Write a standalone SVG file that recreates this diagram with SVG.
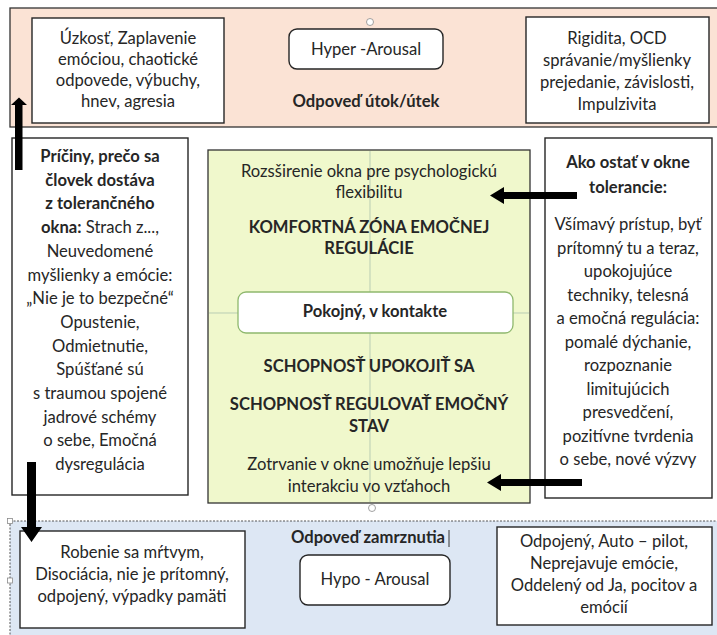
<svg xmlns="http://www.w3.org/2000/svg" width="717" height="635" viewBox="0 0 717 635">
<style>
  text { font-family: Lato, "Liberation Sans", sans-serif; font-size: 16.6px; fill: #262626; text-anchor: middle; }
  .b { font-weight: bold; }
  .box { fill: #ffffff; stroke: #262626; stroke-width: 1.4; }
  .rbox { fill: #ffffff; stroke: #262626; stroke-width: 1.4; }
  .arrow { fill: #000000; }
  .grid { stroke: #b9cdb3; stroke-width: 1; }
  .handle { fill: #ffffff; stroke: #8a8a8a; stroke-width: 0.8; }
</style>
<rect width="717" height="635" fill="#ffffff"/>

<g id="hyper-band">
  <rect x="10" y="8" width="712" height="119" fill="#fbe3d5" stroke="#333333" stroke-width="1.3"/>
  <circle cx="370" cy="22" r="3.5" class="handle"/>
  <text x="366" y="107" class="b">Odpoveď útok/útek</text>
</g>

<g id="hypo-band">
  <rect x="10" y="521" width="712" height="120" fill="#dde7f4" stroke="#555555" stroke-width="1" stroke-dasharray="2,1.5"/>
  <rect x="7.5" y="518.5" width="5" height="5" class="handle"/>
  <rect x="7.5" y="578" width="5" height="5" class="handle"/>
  <text x="368" y="543" class="b">Odpoveď zamrznutia</text>
  <line x1="449" y1="530" x2="449" y2="547" stroke="#333333" stroke-width="1"/>
</g>

<g id="center-window">
  <rect x="208" y="150" width="322" height="353" fill="#f0f8cc" stroke="#333333" stroke-width="1.3"/>
  <line x1="370" y1="151" x2="370" y2="502" class="grid"/>
  <line x1="209" y1="313" x2="529" y2="313" class="grid"/>
  <text x="369" y="177">Rozsširenie okna pre psychologickú</text>
  <text x="369" y="198">flexibilitu</text>
  <text x="369" y="233" class="b">KOMFORTNÁ ZÓNA EMOČNEJ</text>
  <text x="369" y="254" class="b">REGULÁCIE</text>
  <text x="369" y="372" class="b">SCHOPNOSŤ UPOKOJIŤ SA</text>
  <text x="369" y="410" class="b">SCHOPNOSŤ REGULOVAŤ EMOČNÝ</text>
  <text x="369" y="432" class="b">STAV</text>
  <text x="369" y="470">Zotrvanie v okne umožňuje lepšiu</text>
  <text x="369" y="492">interakciu vo vzťahoch</text>
  <circle cx="372" cy="508" r="3.5" class="handle"/>
</g>

<g id="pokojny">
  <rect x="238" y="292" width="275" height="41" rx="8" fill="#ffffff" stroke="#8fb86e" stroke-width="1.3"/>
  <text x="375" y="317" class="b">Pokojný, v kontakte</text>
</g>

<g id="hyper-arousal">
  <rect x="289" y="29" width="154" height="40" rx="8" class="rbox"/>
  <text x="366" y="55">Hyper -Arousal</text>
</g>

<g id="hyper-left">
  <rect x="32" y="18" width="192" height="105" class="box"/>
  <text x="128" y="44">Úzkosť, Zaplavenie</text>
  <text x="128" y="65">emóciou, chaotické</text>
  <text x="128" y="86">odpovede, výbuchy,</text>
  <text x="128" y="107">hnev, agresia</text>
</g>

<g id="hyper-right">
  <rect x="526" y="17" width="183" height="106" class="box"/>
  <text x="617" y="44">Rigidita, OCD</text>
  <text x="617" y="66">správanie/myšlienky</text>
  <text x="617" y="88">prejedanie, závislosti,</text>
  <text x="617" y="110">Impulzivita</text>
</g>

<g id="causes">
  <rect x="12" y="138" width="176" height="357" class="box"/>
  <text x="100" y="162" class="b">Príčiny, prečo sa</text>
  <text x="100" y="185.7" class="b">človek dostáva</text>
  <text x="100" y="209.4" class="b">z tolerančného</text>
  <text x="100" y="233.1"><tspan class="b">okna:</tspan> Strach z...,</text>
  <text x="100" y="256.8">Neuvedomené</text>
  <text x="100" y="280.5">myšlienky a emócie:</text>
  <text x="100" y="304.2">„Nie je to bezpečné“</text>
  <text x="100" y="327.9">Opustenie,</text>
  <text x="100" y="351.6">Odmietnutie,</text>
  <text x="100" y="375.3">Spúšťané sú</text>
  <text x="100" y="399">s traumou spojené</text>
  <text x="100" y="422.7">jadrové schémy</text>
  <text x="100" y="446.4">o sebe, Emočná</text>
  <text x="100" y="470.1">dysregulácia</text>
</g>

<g id="stay">
  <rect x="545" y="138" width="167" height="360" class="box"/>
  <text x="628" y="168" class="b">Ako ostať v okne</text>
  <text x="628" y="193" class="b">tolerancie:</text>
  <text x="628" y="230">Všímavý prístup, byť</text>
  <text x="628" y="253.5">prítomný tu a teraz,</text>
  <text x="628" y="277">upokojujúce</text>
  <text x="628" y="300.5">techniky, telesná</text>
  <text x="628" y="324">a emočná regulácia:</text>
  <text x="628" y="347.5">pomalé dýchanie,</text>
  <text x="628" y="371">rozpoznanie</text>
  <text x="628" y="394.5">limitujúcich</text>
  <text x="628" y="418">presvedčení,</text>
  <text x="628" y="441.5">pozitívne tvrdenia</text>
  <text x="628" y="465">o sebe, nové výzvy</text>
</g>

<g id="hypo-left">
  <rect x="20" y="531" width="225" height="97" class="box"/>
  <text x="132" y="558">Robenie sa mŕtvym,</text>
  <text x="132" y="580">Disociácia, nie je prítomný,</text>
  <text x="132" y="602">odpojený, výpadky pamäti</text>
</g>

<g id="hypo-arousal">
  <rect x="300" y="555" width="150" height="50" rx="8" class="rbox"/>
  <text x="375" y="585">Hypo - Arousal</text>
</g>

<g id="hypo-right">
  <rect x="497" y="527" width="215" height="98" class="box"/>
  <text x="604" y="547">Odpojený, Auto – pilot,</text>
  <text x="604" y="569">Neprejavuje emócie,</text>
  <text x="604" y="591">Oddelený od Ja, pocitov a</text>
  <text x="604" y="613">emócií</text>
</g>

<g id="connectors">
  <polygon class="arrow" points="15,170 22.5,170 22.5,105 27,105 19,97.5 11,105 15,105"/>
  <polygon class="arrow" points="27,462 36,462 36,527 42,527 31.5,542 21,527 27,527"/>
  <polygon class="arrow" points="577,192 504,192 504,187 490,195.5 504,204 504,199 577,199"/>
  <polygon class="arrow" points="582,479 501,479 501,474 487,482.5 501,491 501,486 582,486"/>
</g>
</svg>
